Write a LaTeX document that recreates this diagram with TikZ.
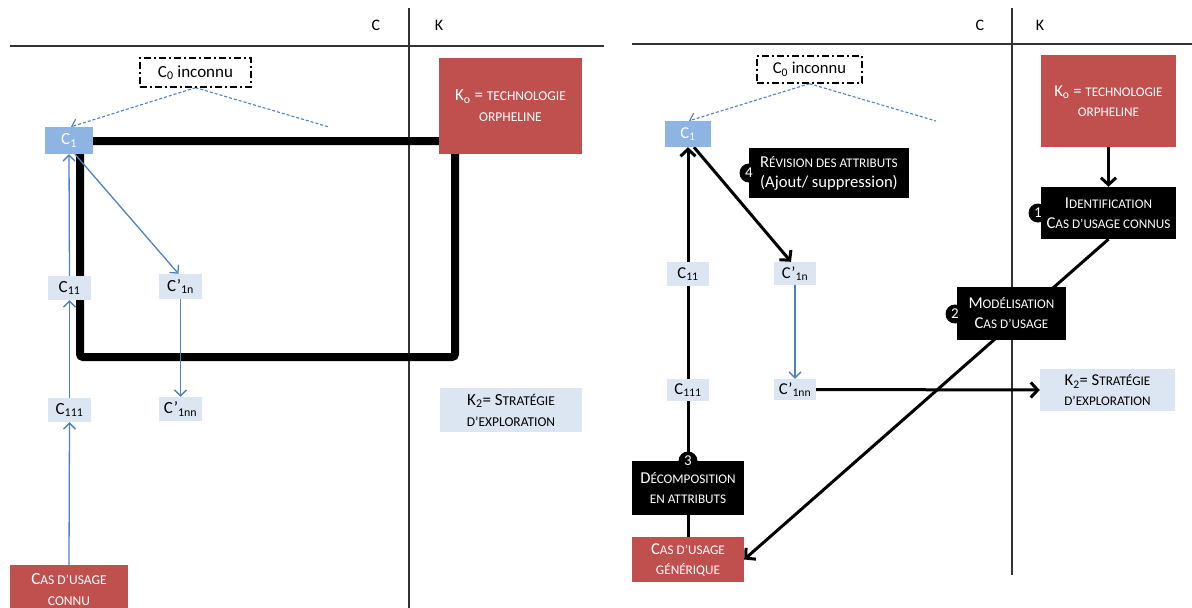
\documentclass[tikz,border=0pt]{standalone}
\usepackage{fontspec}
\setmainfont{Carlito}
\usetikzlibrary{arrows.meta,backgrounds}
\definecolor{kred}{HTML}{C0504D}
\definecolor{cblue}{HTML}{8EB4E3}
\definecolor{lblue}{HTML}{DCE6F2}
\definecolor{lineblue}{HTML}{4F81BD}
\newcommand\sm[1]{{\fontsize{13.5}{16}\selectfont #1}}
\newcommand\smr[1]{{\fontsize{13.2}{15}\selectfont #1}}
\tikzset{
  bx/.style={inner sep=0pt, align=center},
  lf/.style={font=\fontsize{17}{21}\selectfont},
  rf/.style={font=\fontsize{16.6}{20}\selectfont},
  lightbox/.style={bx, fill=lblue},
  c1box/.style={bx, fill=cblue, text=white},
  redbox/.style={bx, fill=kred, text=white},
  blackbox/.style={bx, fill=black, text=white},
  unknownbox/.style={bx, draw=black, line width=1.4pt, dash pattern=on 7pt off 3pt on 2pt off 3pt},
  badge/.style={circle, fill=black, text=white, minimum size=19pt, inner sep=0pt, font=\fontsize{15}{15}\selectfont},
  frameline/.style={draw=black!80, line width=1.2pt},
  bluearrow/.style={draw=lineblue, line width=1.3pt, -{Straight Barb[length=6pt,width=12pt]}},
  bluedash/.style={draw=lineblue, line width=1.1pt, dash pattern=on 3pt off 2pt},
  thickarrow/.style={draw=black, line width=3pt, -{Straight Barb[length=7pt,width=15pt]}},
  thickline/.style={draw=black, line width=3pt},
  loopline/.style={draw=black, line width=8pt, rounded corners=3pt},
  axislabel/.style={font=\fontsize{16}{16}\selectfont}
}
\begin{document}
\begin{tikzpicture}[x=1pt,y=-1pt]
\useasboundingbox (0,0) rectangle (1192,608);
% ---------- LEFT PANEL ----------
\node[axislabel] (CLl) at (376,25) {C};
\node[axislabel] (KLl) at (439,25) {K};
\node[unknownbox, lf, minimum width=111pt, minimum height=29pt] (C0L) at (195.5,72.5) {C\textsubscript{0} inconnu};
\node[c1box, lf, minimum width=48pt, minimum height=27pt] (C1L) at (69,140.5) {C\textsubscript{1}};
\node[redbox, lf, minimum width=143pt, minimum height=96pt] (K0L) at (510.5,106) {K\textsubscript{o} = \sm{TECHNOLOGIE}\\\sm{ORPHELINE}};
\node[lightbox, lf, minimum width=43pt, minimum height=24pt] (C11L) at (69.5,288) {C\textsubscript{11}};
\node[lightbox, lf, minimum width=43pt, minimum height=25pt] (C1nL) at (180.5,286.5) {C’\textsubscript{1n}};
\node[lightbox, lf, minimum width=43pt, minimum height=24pt] (C111L) at (69.5,410) {C\textsubscript{111}};
\node[lightbox, lf, minimum width=43pt, minimum height=24pt] (C1nnL) at (180.5,409) {C’\textsubscript{1nn}};
\node[lightbox, lf, minimum width=142pt, minimum height=44pt] (K2L) at (511,410) {K\textsubscript{2}= S\sm{TRATÉGIE}\\\sm{D’EXPLORATION}};
\node[redbox, lf, minimum width=118pt, minimum height=50pt] (CasL) at (69,590) {C\sm{AS D’USAGE}\\\sm{CONNU}};
\coordinate (dashendL) at (329,127);
\begin{scope}[on background layer]
  \draw[frameline] (10,46) -- (604,46);
  \draw[frameline] (409,8) -- (409,608);
  \draw[loopline] (80,141) rectangle (455,357);
  \draw[bluedash, -{Straight Barb[length=6pt,width=12pt]}] (C0L.south) -- ([xshift=2pt]C1L.north);
  \draw[bluedash] (C0L.south) -- (dashendL);
  \draw[bluearrow] (C11L.north) -- (C1L.south);
  \draw[bluearrow] ([xshift=6pt]C1L.south) -- ([xshift=-2pt]C1nL.north);
  \draw[bluearrow] (C1nL.south) -- (C1nnL.north);
  \draw[bluearrow] (C111L.north) -- (C11L.south);
  \draw[bluearrow] (CasL.north) -- (C111L.south);
\end{scope}
% ---------- RIGHT PANEL ----------
\node[axislabel] (CLr) at (980,25) {C};
\node[axislabel] (KLr) at (1040,25) {K};
\node[unknownbox, rf, minimum width=105pt, minimum height=27pt] (C0R) at (809.5,69.5) {C\textsubscript{0} inconnu};
\node[c1box, rf, minimum width=46pt, minimum height=26pt] (C1R) at (688,134) {C\textsubscript{1}};
\node[redbox, rf, minimum width=135pt, minimum height=92pt] (K0R) at (1108.5,101) {K\textsubscript{o} = \smr{TECHNOLOGIE}\\\smr{ORPHELINE}};
\node[blackbox, rf, minimum width=160pt, minimum height=50pt] (RevR) at (829,173) {R\smr{ÉVISION DES ATTRIBUTS}\\(Ajout/ suppression)};
\node[blackbox, rf, minimum width=135pt, minimum height=52pt] (IdR) at (1108.5,213) {I\smr{DENTIFICATION}\\C\smr{AS D’USAGE CONNUS}};
\node[lightbox, rf, minimum width=42pt, minimum height=24pt] (C11R) at (688,274) {C\textsubscript{11}};
\node[lightbox, rf, minimum width=42pt, minimum height=23pt] (C1nR) at (795,273.5) {C’\textsubscript{1n}};
\node[blackbox, rf, minimum width=109pt, minimum height=53pt] (ModR) at (1011.5,313.5) {M\smr{ODÉLISATION}\\C\smr{AS D’USAGE}};
\node[lightbox, rf, minimum width=42pt, minimum height=22pt] (C111R) at (688,390) {C\textsubscript{111}};
\node[lightbox, rf, minimum width=42pt, minimum height=21pt] (C1nnR) at (795,389.5) {C’\textsubscript{1nn}};
\node[lightbox, rf, minimum width=135pt, minimum height=42pt] (K2R) at (1107.5,390) {K\textsubscript{2}= S\smr{TRATÉGIE}\\\smr{D’EXPLORATION}};
\node[blackbox, rf, minimum width=112pt, minimum height=54pt] (DecR) at (688,488) {D\smr{ÉCOMPOSITION}\\\smr{EN ATTRIBUTS}};
\node[redbox, rf, minimum width=112pt, minimum height=45pt] (GenR) at (688,559.5) {C\smr{AS D’USAGE}\\\smr{GÉNÉRIQUE}};
\node[badge] (B4) at (749,173) {4};
\node[badge] (B1) at (1038,213) {1};
\node[badge] (B2) at (955,314) {2};
\node[badge] (B3) at (688,461) {3};
\coordinate (dashendR) at (936,121);
\begin{scope}[on background layer]
  \draw[frameline] (632,44) -- (1192,44);
  \draw[frameline] (1012,8) -- (1012,575);
  \draw[bluedash, -{Straight Barb[length=6pt,width=12pt]}] (C0R.south) -- ([xshift=1pt]C1R.north);
  \draw[bluedash] (C0R.south) -- (dashendR);
  \draw[thickarrow] (DecR.north) -- (C1R.south);
  \draw[thickline] (GenR.north) -- (DecR.south);
  \draw[thickarrow] ([xshift=6pt]C1R.south) -- ([xshift=-4pt]C1nR.north);
  \draw[thickarrow] (K0R.south) -- (IdR.north);
  \draw[thickarrow] (IdR.south) -- (GenR.east);
  \draw[bluearrow] (C1nR.south) -- (C1nnR.north);
  \draw[thickarrow] (C1nnR.east) -- (K2R.west);
\end{scope}
\end{tikzpicture}
\end{document}
